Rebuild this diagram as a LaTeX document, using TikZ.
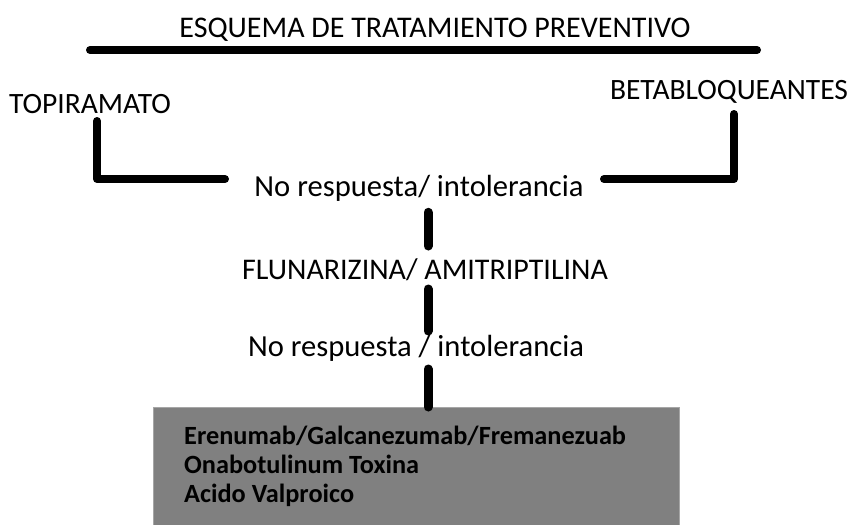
\documentclass[tikz,border=0pt]{standalone}
\usepackage{fontspec}
\setmainfont{Carlito}
\begin{document}
\begin{tikzpicture}[x=1pt,y=-1pt,
  lbl/.style={inner sep=0pt, anchor=center, text=black, font=\fontsize{29.5}{35}\selectfont},
  lblb/.style={lbl, font=\fontsize{30}{36}\selectfont},
  lblc/.style={lbl, font=\fontsize{30.6}{36}\selectfont},
  boxtxt/.style={inner sep=0pt, anchor=base west, text=black, font=\fontsize{26.3}{32}\selectfont\bfseries},
  heavy/.style={line width=8pt, line cap=round, line join=round},
  dashseg/.style={line width=9pt, line cap=round}]
\useasboundingbox (0,0) rectangle (855,525);
% title and rule
\node[lblb] (title) at (435,30) {ESQUEMA DE TRATAMIENTO PREVENTIVO};
\coordinate (ruleL) at (90,50);
\coordinate (ruleR) at (757,50);
\draw[heavy] (ruleL) -- (ruleR);
% branches
\node[lbl] (topi) at (90,104) {TOPIRAMATO};
\node[lbl] (beta) at (729,92) {BETABLOQUEANTES};
\node[lblc] (nr1) at (419,188) {No respuesta/ intolerancia};
\node[lblb] (flun) at (425,270) {FLUNARIZINA/ AMITRIPTILINA};
\node[lblc] (nr2) at (416,348) {No respuesta / intolerancia};
% box
\node[draw=black!35, fill=black!50, line width=1pt, minimum width=526pt, minimum height=130pt,
      anchor=north west, inner sep=0pt] (box) at (153,407) {};
\node[boxtxt] (b1) at (184,444) {Erenumab/Galcanezumab/Fremanezuab};
\node[boxtxt] (b2) at (184,473) {Onabotulinum Toxina};
\node[boxtxt] (b3) at (184,502) {Acido Valproico};
% left bracket
\coordinate (lTop) at (97,121);
\coordinate (lCorner) at (97,179);
\coordinate (lEnd) at (225,179);
\draw[heavy] (lTop) -- (lCorner) -- (lEnd);
% right bracket
\coordinate (rTop) at (734,114);
\coordinate (rCorner) at (734,179);
\coordinate (rEnd) at (604,179);
\draw[heavy] (rTop) -- (rCorner) -- (rEnd);
% vertical dashes
\draw[dashseg] (nr1.south -| 428,0) ++(0,11) -- (428,246);
\draw[dashseg] (428,289) -- (428,331);
\draw[dashseg] (428,369) -- (box.north -| 428,0);
\end{tikzpicture}
\end{document}
